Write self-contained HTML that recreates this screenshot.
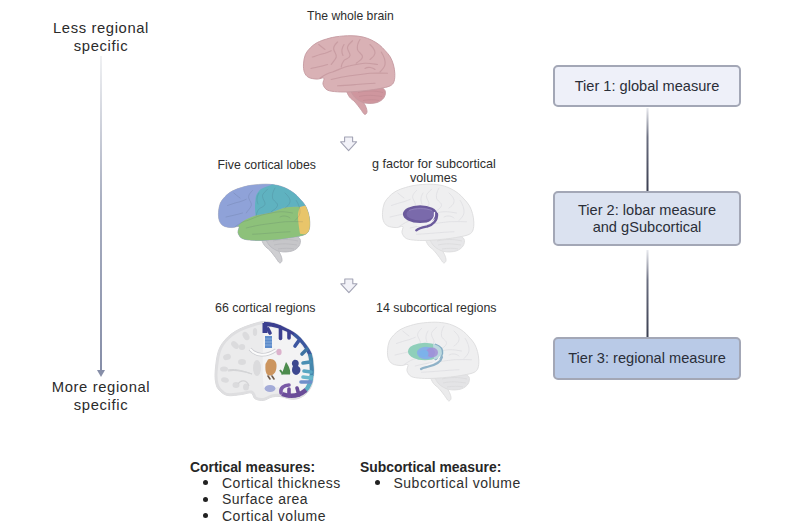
<!DOCTYPE html>
<html><head><meta charset="utf-8">
<style>
html,body{margin:0;padding:0;background:#fff;}
body{width:800px;height:530px;position:relative;overflow:hidden;font-family:"Liberation Sans",sans-serif;color:#333;}
.t{position:absolute;white-space:nowrap;}
.side{font-size:14.8px;line-height:18.3px;letter-spacing:0.62px;text-align:center;width:140px;left:31px;color:#2b2b2b;}
.lab{font-size:12.4px;line-height:14px;color:#2e2e2e;}
.box{position:absolute;left:553px;width:188px;box-sizing:border-box;border:2px solid #a3a7b6;border-radius:5px;font-size:14.6px;line-height:17px;text-align:center;color:#2a2e38;display:flex;align-items:center;justify-content:center;}
.hd{font-weight:bold;font-size:13.9px;line-height:16px;color:#262626;}
.li{font-size:14px;line-height:16.4px;letter-spacing:0.5px;color:#2e2e2e;}
.dot{position:absolute;width:5px;height:5px;border-radius:50%;background:#222;}
</style></head><body>
<svg width="800" height="530" style="position:absolute;left:0;top:0">
<defs>
<linearGradient id="ga" x1="0" y1="0" x2="0" y2="1"><stop offset="0" stop-color="#f0f1f3"/><stop offset="0.45" stop-color="#aab0c2"/><stop offset="1" stop-color="#868ea8"/></linearGradient>
<linearGradient id="gl" x1="0" y1="0" x2="0" y2="1"><stop offset="0" stop-color="#e8e9ee"/><stop offset="0.35" stop-color="#6a6e80"/><stop offset="1" stop-color="#3a3e50"/></linearGradient>
</defs>
<!-- left arrow -->
<rect x="100" y="56" width="2" height="315" fill="url(#ga)"/>
<path d="M97,370 L105,370 L101,377 Z" fill="#868ea8"/>
<!-- tier lines -->
<rect x="646.5" y="108" width="2" height="83" fill="url(#gl)"/>
<rect x="646.5" y="250" width="2" height="87" fill="url(#gl)"/>
<!-- hollow arrows -->
<path d="M344.6,137 L352.6,137 L352.6,141.8 L356.6,141.8 L348.6,150.6 L340.6,141.8 L344.6,141.8 Z" fill="#f2f2f8" stroke="#a2a3b4" stroke-width="1.1" stroke-linejoin="round"/>
<path d="M344.8,279 L352.8,279 L352.8,283.8 L357,283.8 L348.9,292.6 L340.8,283.8 L344.8,283.8 Z" fill="#f2f2f8" stroke="#a2a3b4" stroke-width="1.1" stroke-linejoin="round"/>
<g transform="translate(303,35.5)"><path d="M44.00,55.00 C45.08,54.50 50.58,57.00 53.00,58.50 C55.42,60.00 56.92,62.00 58.50,64.00 C60.08,66.00 61.58,68.42 62.50,70.50 C63.42,72.58 64.17,75.12 64.00,76.50 C63.83,77.88 62.58,79.30 61.50,78.80 C60.42,78.30 59.08,75.55 57.50,73.50 C55.92,71.45 53.83,68.50 52.00,66.50 C50.17,64.50 47.83,63.42 46.50,61.50 C45.17,59.58 42.92,55.50 44.00,55.00 Z" fill="#d4a2a8" stroke="#c59aa0" stroke-width="0.9"/><path d="M48.00,53.00 C49.33,51.17 55.50,51.33 60.00,51.00 C64.50,50.67 71.33,50.33 75.00,51.00 C78.67,51.67 81.00,53.17 82.00,55.00 C83.00,56.83 82.33,60.00 81.00,62.00 C79.67,64.00 77.17,66.08 74.00,67.00 C70.83,67.92 65.67,68.33 62.00,67.50 C58.33,66.67 54.33,64.42 52.00,62.00 C49.67,59.58 46.67,54.83 48.00,53.00 Z" fill="#cf969e" stroke="#c59aa0" stroke-width="0.9"/><path d="M55,57 C63,55 72,55 80,57" fill="none" stroke="#c08a92" stroke-width="0.8" opacity="0.8"/><path d="M56,61 C64,59 72,60 79,61" fill="none" stroke="#c08a92" stroke-width="0.8" opacity="0.8"/><path d="M60,65 C66,64 72,64 76,65" fill="none" stroke="#c08a92" stroke-width="0.8" opacity="0.8"/><path d="M0.50,28.40 C0.67,25.43 1.28,21.65 2.40,19.00 C3.52,16.35 5.43,14.37 7.20,12.50 C8.97,10.63 10.70,9.17 13.00,7.80 C15.30,6.43 17.67,5.38 21.00,4.30 C24.33,3.22 28.50,1.98 33.00,1.30 C37.50,0.62 43.50,0.17 48.00,0.20 C52.50,0.23 56.50,0.73 60.00,1.50 C63.50,2.27 66.25,3.47 69.00,4.80 C71.75,6.13 74.33,7.80 76.50,9.50 C78.67,11.20 80.20,13.00 82.00,15.00 C83.80,17.00 85.88,19.08 87.30,21.50 C88.72,23.92 89.75,26.75 90.50,29.50 C91.25,32.25 91.72,35.25 91.80,38.00 C91.88,40.75 91.78,43.93 91.00,46.00 C90.22,48.07 89.45,49.23 87.10,50.40 C84.75,51.57 80.87,52.23 76.90,53.00 C72.93,53.77 68.12,54.45 63.30,55.00 C58.48,55.55 52.80,56.08 48.00,56.30 C43.20,56.52 38.45,56.60 34.50,56.30 C30.55,56.00 26.72,55.77 24.30,54.50 C21.88,53.23 20.57,50.70 20.00,48.70 C19.43,46.70 21.88,43.35 20.90,42.50 C19.92,41.65 16.65,43.70 14.10,43.60 C11.55,43.50 7.72,43.03 5.60,41.90 C3.48,40.77 2.25,39.05 1.40,36.80 C0.55,34.55 0.33,31.37 0.50,28.40 Z" fill="#d9b1b5" stroke="#c59aa0" stroke-width="0.9"/><path d="M17,42.75 C22,39 26,37 29.5,36.5 C36,34 42,31 47,30.25 C53,29 58,28 62,27.75 C67,27.5 71,28.5 74.5,29" fill="none" stroke="#c4979d" stroke-width="1.15" stroke-linecap="round" opacity="0.8"/><path d="M49.5,5.25 C47,8 44,10 44.5,12.75 C45,16 47.5,18 47,20.25 C46.5,23 42,23.5 40.75,25.25 C39.5,27 38.5,29 38.25,31.5" fill="none" stroke="#c4979d" stroke-width="1.15" stroke-linecap="round" opacity="0.8"/><path d="M34.5,6.5 C32,9 30,11.5 30.75,14 C31.5,17 34,19 33.25,21.5 C32.5,24.5 29.5,26.5 28.25,29" fill="none" stroke="#c4979d" stroke-width="1.15" stroke-linecap="round" opacity="0.8"/><path d="M9.5,21.5 C14,20 18,18.5 22,17.75 C24.5,17 26.5,16 28.25,15.25" fill="none" stroke="#c4979d" stroke-width="1.15" stroke-linecap="round" opacity="0.8"/><path d="M57,4 C55,7 54,11 54.5,14 C55,17 60,18.5 59.5,21.5 C59,24.5 55,26 53.25,27.75" fill="none" stroke="#c4979d" stroke-width="1.15" stroke-linecap="round" opacity="0.8"/><path d="M67,9 C70,12 72.5,14.5 72,17.75 C71.5,21 69,22.5 67,24" fill="none" stroke="#c4979d" stroke-width="1.15" stroke-linecap="round" opacity="0.8"/><path d="M78.25,16.5 C80.5,20 82.5,25 82,29 C81.5,32 79,34.5 77,36.5" fill="none" stroke="#c4979d" stroke-width="1.15" stroke-linecap="round" opacity="0.8"/><path d="M28.25,44 C34,42.5 41,41 47,40.25 C53,39.5 60,38.5 67,37.75 C73,37.5 79,37.5 84.5,37.75" fill="none" stroke="#c4979d" stroke-width="1.15" stroke-linecap="round" opacity="0.8"/><path d="M34.5,50.25 C41,50 47,49.5 53.25,49 C59,48.5 66,48 72,47.75" fill="none" stroke="#c4979d" stroke-width="1.15" stroke-linecap="round" opacity="0.8"/><path d="M8,33 C12,32 18,31 24.5,29" fill="none" stroke="#c4979d" stroke-width="1.15" stroke-linecap="round" opacity="0.8"/><path d="M15.75,9 C18,11 20,12.5 22,14" fill="none" stroke="#c4979d" stroke-width="1.15" stroke-linecap="round" opacity="0.8"/><path d="M62,33 C65,31 70,32 72,34" fill="none" stroke="#c4979d" stroke-width="1.15" stroke-linecap="round" opacity="0.8"/><path d="M40,20 C38,16 39,12 41,9" fill="none" stroke="#c4979d" stroke-width="1.15" stroke-linecap="round" opacity="0.8"/></g><g transform="translate(218,184)"><path d="M44.00,55.00 C45.08,54.50 50.58,57.00 53.00,58.50 C55.42,60.00 56.92,62.00 58.50,64.00 C60.08,66.00 61.58,68.42 62.50,70.50 C63.42,72.58 64.17,75.12 64.00,76.50 C63.83,77.88 62.58,79.30 61.50,78.80 C60.42,78.30 59.08,75.55 57.50,73.50 C55.92,71.45 53.83,68.50 52.00,66.50 C50.17,64.50 47.83,63.42 46.50,61.50 C45.17,59.58 42.92,55.50 44.00,55.00 Z" fill="#cfcfd2" stroke="#b9b9be" stroke-width="0.9"/><path d="M48.00,53.00 C49.33,51.17 55.50,51.33 60.00,51.00 C64.50,50.67 71.33,50.33 75.00,51.00 C78.67,51.67 81.00,53.17 82.00,55.00 C83.00,56.83 82.33,60.00 81.00,62.00 C79.67,64.00 77.17,66.08 74.00,67.00 C70.83,67.92 65.67,68.33 62.00,67.50 C58.33,66.67 54.33,64.42 52.00,62.00 C49.67,59.58 46.67,54.83 48.00,53.00 Z" fill="#c6c6c9" stroke="#b9b9be" stroke-width="0.9"/><path d="M55,57 C63,55 72,55 80,57" fill="none" stroke="#b5b5b9" stroke-width="0.8" opacity="0.8"/><path d="M56,61 C64,59 72,60 79,61" fill="none" stroke="#b5b5b9" stroke-width="0.8" opacity="0.8"/><path d="M60,65 C66,64 72,64 76,65" fill="none" stroke="#b5b5b9" stroke-width="0.8" opacity="0.8"/><path d="M0.50,28.40 C0.67,25.43 1.28,21.65 2.40,19.00 C3.52,16.35 5.43,14.37 7.20,12.50 C8.97,10.63 10.70,9.17 13.00,7.80 C15.30,6.43 17.67,5.38 21.00,4.30 C24.33,3.22 28.50,1.98 33.00,1.30 C37.50,0.62 43.50,0.17 48.00,0.20 C52.50,0.23 56.50,0.73 60.00,1.50 C63.50,2.27 66.25,3.47 69.00,4.80 C71.75,6.13 74.33,7.80 76.50,9.50 C78.67,11.20 80.20,13.00 82.00,15.00 C83.80,17.00 85.88,19.08 87.30,21.50 C88.72,23.92 89.75,26.75 90.50,29.50 C91.25,32.25 91.72,35.25 91.80,38.00 C91.88,40.75 91.78,43.93 91.00,46.00 C90.22,48.07 89.45,49.23 87.10,50.40 C84.75,51.57 80.87,52.23 76.90,53.00 C72.93,53.77 68.12,54.45 63.30,55.00 C58.48,55.55 52.80,56.08 48.00,56.30 C43.20,56.52 38.45,56.60 34.50,56.30 C30.55,56.00 26.72,55.77 24.30,54.50 C21.88,53.23 20.57,50.70 20.00,48.70 C19.43,46.70 21.88,43.35 20.90,42.50 C19.92,41.65 16.65,43.70 14.10,43.60 C11.55,43.50 7.72,43.03 5.60,41.90 C3.48,40.77 2.25,39.05 1.40,36.80 C0.55,34.55 0.33,31.37 0.50,28.40 Z" fill="#8fa3d8" stroke="#b9b9be" stroke-width="0.9"/>
<clipPath id="cl2"><path d="M0.50,28.40 C0.67,25.43 1.28,21.65 2.40,19.00 C3.52,16.35 5.43,14.37 7.20,12.50 C8.97,10.63 10.70,9.17 13.00,7.80 C15.30,6.43 17.67,5.38 21.00,4.30 C24.33,3.22 28.50,1.98 33.00,1.30 C37.50,0.62 43.50,0.17 48.00,0.20 C52.50,0.23 56.50,0.73 60.00,1.50 C63.50,2.27 66.25,3.47 69.00,4.80 C71.75,6.13 74.33,7.80 76.50,9.50 C78.67,11.20 80.20,13.00 82.00,15.00 C83.80,17.00 85.88,19.08 87.30,21.50 C88.72,23.92 89.75,26.75 90.50,29.50 C91.25,32.25 91.72,35.25 91.80,38.00 C91.88,40.75 91.78,43.93 91.00,46.00 C90.22,48.07 89.45,49.23 87.10,50.40 C84.75,51.57 80.87,52.23 76.90,53.00 C72.93,53.77 68.12,54.45 63.30,55.00 C58.48,55.55 52.80,56.08 48.00,56.30 C43.20,56.52 38.45,56.60 34.50,56.30 C30.55,56.00 26.72,55.77 24.30,54.50 C21.88,53.23 20.57,50.70 20.00,48.70 C19.43,46.70 21.88,43.35 20.90,42.50 C19.92,41.65 16.65,43.70 14.10,43.60 C11.55,43.50 7.72,43.03 5.60,41.90 C3.48,40.77 2.25,39.05 1.40,36.80 C0.55,34.55 0.33,31.37 0.50,28.40 Z"/></clipPath>
<g clip-path="url(#cl2)">
<rect x="-5" y="-5" width="110" height="90" fill="#8fa2d8"/>
<path d="M56,-5 L53.25,1 C47,3 42,5 40.75,7.25 C38.5,10 37.8,12 37.6,14.75 C37.2,18 37,21 37,23.5 C37.1,26 37.3,29 37.6,31.6 C43,30.5 48,29.5 53.25,28.5 C58,27 62,25 67,23.5 C72,22.8 77,22.7 82,22.9 L100,20 L100,-5 Z" fill="#5fb2c0"/>
<path d="M14,50 C16,46 18,43 20.75,41 C23,38.5 26,36.5 29.5,34.75 C32,33.5 35,32.5 37.6,31.6 C43,30.5 48,29.5 53.25,28.5 C58,27 62,25 67,23.5 C72,22.8 77,22.7 82,22.9 L100,23 L100,80 L0,80 Z" fill="#8dc17a"/>
<path d="M82,22.9 C80.5,26 79.8,30 80,33.5 C80.2,38 81,44 82,49.75 L100,52 L100,18 Z" fill="#e8c56a"/>
</g>
<path d="M17,42.75 C22,39 26,37 29.5,36.5 C36,34 42,31 47,30.25 C53,29 58,28 62,27.75 C67,27.5 71,28.5 74.5,29" fill="none" stroke="#3a4a5a" stroke-width="0.9" stroke-linecap="round" opacity="0.16"/><path d="M49.5,5.25 C47,8 44,10 44.5,12.75 C45,16 47.5,18 47,20.25 C46.5,23 42,23.5 40.75,25.25 C39.5,27 38.5,29 38.25,31.5" fill="none" stroke="#3a4a5a" stroke-width="0.9" stroke-linecap="round" opacity="0.16"/><path d="M34.5,6.5 C32,9 30,11.5 30.75,14 C31.5,17 34,19 33.25,21.5 C32.5,24.5 29.5,26.5 28.25,29" fill="none" stroke="#3a4a5a" stroke-width="0.9" stroke-linecap="round" opacity="0.16"/><path d="M9.5,21.5 C14,20 18,18.5 22,17.75 C24.5,17 26.5,16 28.25,15.25" fill="none" stroke="#3a4a5a" stroke-width="0.9" stroke-linecap="round" opacity="0.16"/><path d="M57,4 C55,7 54,11 54.5,14 C55,17 60,18.5 59.5,21.5 C59,24.5 55,26 53.25,27.75" fill="none" stroke="#3a4a5a" stroke-width="0.9" stroke-linecap="round" opacity="0.16"/><path d="M67,9 C70,12 72.5,14.5 72,17.75 C71.5,21 69,22.5 67,24" fill="none" stroke="#3a4a5a" stroke-width="0.9" stroke-linecap="round" opacity="0.16"/><path d="M78.25,16.5 C80.5,20 82.5,25 82,29 C81.5,32 79,34.5 77,36.5" fill="none" stroke="#3a4a5a" stroke-width="0.9" stroke-linecap="round" opacity="0.16"/><path d="M28.25,44 C34,42.5 41,41 47,40.25 C53,39.5 60,38.5 67,37.75 C73,37.5 79,37.5 84.5,37.75" fill="none" stroke="#3a4a5a" stroke-width="0.9" stroke-linecap="round" opacity="0.16"/><path d="M34.5,50.25 C41,50 47,49.5 53.25,49 C59,48.5 66,48 72,47.75" fill="none" stroke="#3a4a5a" stroke-width="0.9" stroke-linecap="round" opacity="0.16"/><path d="M8,33 C12,32 18,31 24.5,29" fill="none" stroke="#3a4a5a" stroke-width="0.9" stroke-linecap="round" opacity="0.16"/><path d="M15.75,9 C18,11 20,12.5 22,14" fill="none" stroke="#3a4a5a" stroke-width="0.9" stroke-linecap="round" opacity="0.16"/><path d="M62,33 C65,31 70,32 72,34" fill="none" stroke="#3a4a5a" stroke-width="0.9" stroke-linecap="round" opacity="0.16"/><path d="M40,20 C38,16 39,12 41,9" fill="none" stroke="#3a4a5a" stroke-width="0.9" stroke-linecap="round" opacity="0.16"/></g><g transform="translate(382,184)"><path d="M44.00,55.00 C45.08,54.50 50.58,57.00 53.00,58.50 C55.42,60.00 56.92,62.00 58.50,64.00 C60.08,66.00 61.58,68.42 62.50,70.50 C63.42,72.58 64.17,75.12 64.00,76.50 C63.83,77.88 62.58,79.30 61.50,78.80 C60.42,78.30 59.08,75.55 57.50,73.50 C55.92,71.45 53.83,68.50 52.00,66.50 C50.17,64.50 47.83,63.42 46.50,61.50 C45.17,59.58 42.92,55.50 44.00,55.00 Z" fill="#ebebec" stroke="#dcdcde" stroke-width="0.9"/><path d="M48.00,53.00 C49.33,51.17 55.50,51.33 60.00,51.00 C64.50,50.67 71.33,50.33 75.00,51.00 C78.67,51.67 81.00,53.17 82.00,55.00 C83.00,56.83 82.33,60.00 81.00,62.00 C79.67,64.00 77.17,66.08 74.00,67.00 C70.83,67.92 65.67,68.33 62.00,67.50 C58.33,66.67 54.33,64.42 52.00,62.00 C49.67,59.58 46.67,54.83 48.00,53.00 Z" fill="#e7e7e9" stroke="#dcdcde" stroke-width="0.9"/><path d="M55,57 C63,55 72,55 80,57" fill="none" stroke="#d8d8da" stroke-width="0.8" opacity="0.8"/><path d="M56,61 C64,59 72,60 79,61" fill="none" stroke="#d8d8da" stroke-width="0.8" opacity="0.8"/><path d="M60,65 C66,64 72,64 76,65" fill="none" stroke="#d8d8da" stroke-width="0.8" opacity="0.8"/><path d="M0.50,28.40 C0.67,25.43 1.28,21.65 2.40,19.00 C3.52,16.35 5.43,14.37 7.20,12.50 C8.97,10.63 10.70,9.17 13.00,7.80 C15.30,6.43 17.67,5.38 21.00,4.30 C24.33,3.22 28.50,1.98 33.00,1.30 C37.50,0.62 43.50,0.17 48.00,0.20 C52.50,0.23 56.50,0.73 60.00,1.50 C63.50,2.27 66.25,3.47 69.00,4.80 C71.75,6.13 74.33,7.80 76.50,9.50 C78.67,11.20 80.20,13.00 82.00,15.00 C83.80,17.00 85.88,19.08 87.30,21.50 C88.72,23.92 89.75,26.75 90.50,29.50 C91.25,32.25 91.72,35.25 91.80,38.00 C91.88,40.75 91.78,43.93 91.00,46.00 C90.22,48.07 89.45,49.23 87.10,50.40 C84.75,51.57 80.87,52.23 76.90,53.00 C72.93,53.77 68.12,54.45 63.30,55.00 C58.48,55.55 52.80,56.08 48.00,56.30 C43.20,56.52 38.45,56.60 34.50,56.30 C30.55,56.00 26.72,55.77 24.30,54.50 C21.88,53.23 20.57,50.70 20.00,48.70 C19.43,46.70 21.88,43.35 20.90,42.50 C19.92,41.65 16.65,43.70 14.10,43.60 C11.55,43.50 7.72,43.03 5.60,41.90 C3.48,40.77 2.25,39.05 1.40,36.80 C0.55,34.55 0.33,31.37 0.50,28.40 Z" fill="#efeff0" stroke="#dcdcde" stroke-width="0.9"/><path d="M17,42.75 C22,39 26,37 29.5,36.5 C36,34 42,31 47,30.25 C53,29 58,28 62,27.75 C67,27.5 71,28.5 74.5,29" fill="none" stroke="#dfdfe2" stroke-width="1.0" stroke-linecap="round" opacity="0.8"/><path d="M49.5,5.25 C47,8 44,10 44.5,12.75 C45,16 47.5,18 47,20.25 C46.5,23 42,23.5 40.75,25.25 C39.5,27 38.5,29 38.25,31.5" fill="none" stroke="#dfdfe2" stroke-width="1.0" stroke-linecap="round" opacity="0.8"/><path d="M34.5,6.5 C32,9 30,11.5 30.75,14 C31.5,17 34,19 33.25,21.5 C32.5,24.5 29.5,26.5 28.25,29" fill="none" stroke="#dfdfe2" stroke-width="1.0" stroke-linecap="round" opacity="0.8"/><path d="M9.5,21.5 C14,20 18,18.5 22,17.75 C24.5,17 26.5,16 28.25,15.25" fill="none" stroke="#dfdfe2" stroke-width="1.0" stroke-linecap="round" opacity="0.8"/><path d="M57,4 C55,7 54,11 54.5,14 C55,17 60,18.5 59.5,21.5 C59,24.5 55,26 53.25,27.75" fill="none" stroke="#dfdfe2" stroke-width="1.0" stroke-linecap="round" opacity="0.8"/><path d="M67,9 C70,12 72.5,14.5 72,17.75 C71.5,21 69,22.5 67,24" fill="none" stroke="#dfdfe2" stroke-width="1.0" stroke-linecap="round" opacity="0.8"/><path d="M78.25,16.5 C80.5,20 82.5,25 82,29 C81.5,32 79,34.5 77,36.5" fill="none" stroke="#dfdfe2" stroke-width="1.0" stroke-linecap="round" opacity="0.8"/><path d="M28.25,44 C34,42.5 41,41 47,40.25 C53,39.5 60,38.5 67,37.75 C73,37.5 79,37.5 84.5,37.75" fill="none" stroke="#dfdfe2" stroke-width="1.0" stroke-linecap="round" opacity="0.8"/><path d="M34.5,50.25 C41,50 47,49.5 53.25,49 C59,48.5 66,48 72,47.75" fill="none" stroke="#dfdfe2" stroke-width="1.0" stroke-linecap="round" opacity="0.8"/><path d="M8,33 C12,32 18,31 24.5,29" fill="none" stroke="#dfdfe2" stroke-width="1.0" stroke-linecap="round" opacity="0.8"/><path d="M15.75,9 C18,11 20,12.5 22,14" fill="none" stroke="#dfdfe2" stroke-width="1.0" stroke-linecap="round" opacity="0.8"/><path d="M62,33 C65,31 70,32 72,34" fill="none" stroke="#dfdfe2" stroke-width="1.0" stroke-linecap="round" opacity="0.8"/><path d="M40,20 C38,16 39,12 41,9" fill="none" stroke="#dfdfe2" stroke-width="1.0" stroke-linecap="round" opacity="0.8"/>
<ellipse cx="38.1" cy="30.1" rx="17.2" ry="8.9" fill="#6b5a9c"/>
<ellipse cx="38.5" cy="30" rx="14" ry="6.5" fill="#7a6aab"/>
<path d="M27,26.5 C33,24 44,24 50,26.5" fill="none" stroke="#9888c0" stroke-width="0.9" opacity="0.8"/>
<path d="M52.5,28 C53.5,33 50,38 44,40 C41,41 38,41.5 35,41.5" fill="none" stroke="#f4f2f8" stroke-width="1.3"/>
<path d="M55,30 C55.5,36 51,41 45,42.5 C40,43.5 37,44 34.3,46.3" fill="none" stroke="#6b5a9c" stroke-width="2.4" stroke-linecap="round"/>
</g><g transform="translate(387,322)"><path d="M44.00,55.00 C45.08,54.50 50.58,57.00 53.00,58.50 C55.42,60.00 56.92,62.00 58.50,64.00 C60.08,66.00 61.58,68.42 62.50,70.50 C63.42,72.58 64.17,75.12 64.00,76.50 C63.83,77.88 62.58,79.30 61.50,78.80 C60.42,78.30 59.08,75.55 57.50,73.50 C55.92,71.45 53.83,68.50 52.00,66.50 C50.17,64.50 47.83,63.42 46.50,61.50 C45.17,59.58 42.92,55.50 44.00,55.00 Z" fill="#ebebec" stroke="#dcdcde" stroke-width="0.9"/><path d="M48.00,53.00 C49.33,51.17 55.50,51.33 60.00,51.00 C64.50,50.67 71.33,50.33 75.00,51.00 C78.67,51.67 81.00,53.17 82.00,55.00 C83.00,56.83 82.33,60.00 81.00,62.00 C79.67,64.00 77.17,66.08 74.00,67.00 C70.83,67.92 65.67,68.33 62.00,67.50 C58.33,66.67 54.33,64.42 52.00,62.00 C49.67,59.58 46.67,54.83 48.00,53.00 Z" fill="#e4e4e6" stroke="#dcdcde" stroke-width="0.9"/><path d="M55,57 C63,55 72,55 80,57" fill="none" stroke="#d8d8da" stroke-width="0.8" opacity="0.8"/><path d="M56,61 C64,59 72,60 79,61" fill="none" stroke="#d8d8da" stroke-width="0.8" opacity="0.8"/><path d="M60,65 C66,64 72,64 76,65" fill="none" stroke="#d8d8da" stroke-width="0.8" opacity="0.8"/><path d="M0.50,28.40 C0.67,25.43 1.28,21.65 2.40,19.00 C3.52,16.35 5.43,14.37 7.20,12.50 C8.97,10.63 10.70,9.17 13.00,7.80 C15.30,6.43 17.67,5.38 21.00,4.30 C24.33,3.22 28.50,1.98 33.00,1.30 C37.50,0.62 43.50,0.17 48.00,0.20 C52.50,0.23 56.50,0.73 60.00,1.50 C63.50,2.27 66.25,3.47 69.00,4.80 C71.75,6.13 74.33,7.80 76.50,9.50 C78.67,11.20 80.20,13.00 82.00,15.00 C83.80,17.00 85.88,19.08 87.30,21.50 C88.72,23.92 89.75,26.75 90.50,29.50 C91.25,32.25 91.72,35.25 91.80,38.00 C91.88,40.75 91.78,43.93 91.00,46.00 C90.22,48.07 89.45,49.23 87.10,50.40 C84.75,51.57 80.87,52.23 76.90,53.00 C72.93,53.77 68.12,54.45 63.30,55.00 C58.48,55.55 52.80,56.08 48.00,56.30 C43.20,56.52 38.45,56.60 34.50,56.30 C30.55,56.00 26.72,55.77 24.30,54.50 C21.88,53.23 20.57,50.70 20.00,48.70 C19.43,46.70 21.88,43.35 20.90,42.50 C19.92,41.65 16.65,43.70 14.10,43.60 C11.55,43.50 7.72,43.03 5.60,41.90 C3.48,40.77 2.25,39.05 1.40,36.80 C0.55,34.55 0.33,31.37 0.50,28.40 Z" fill="#efeff0" stroke="#dcdcde" stroke-width="0.9"/><path d="M17,42.75 C22,39 26,37 29.5,36.5 C36,34 42,31 47,30.25 C53,29 58,28 62,27.75 C67,27.5 71,28.5 74.5,29" fill="none" stroke="#dfdfe2" stroke-width="1.0" stroke-linecap="round" opacity="0.8"/><path d="M49.5,5.25 C47,8 44,10 44.5,12.75 C45,16 47.5,18 47,20.25 C46.5,23 42,23.5 40.75,25.25 C39.5,27 38.5,29 38.25,31.5" fill="none" stroke="#dfdfe2" stroke-width="1.0" stroke-linecap="round" opacity="0.8"/><path d="M34.5,6.5 C32,9 30,11.5 30.75,14 C31.5,17 34,19 33.25,21.5 C32.5,24.5 29.5,26.5 28.25,29" fill="none" stroke="#dfdfe2" stroke-width="1.0" stroke-linecap="round" opacity="0.8"/><path d="M9.5,21.5 C14,20 18,18.5 22,17.75 C24.5,17 26.5,16 28.25,15.25" fill="none" stroke="#dfdfe2" stroke-width="1.0" stroke-linecap="round" opacity="0.8"/><path d="M57,4 C55,7 54,11 54.5,14 C55,17 60,18.5 59.5,21.5 C59,24.5 55,26 53.25,27.75" fill="none" stroke="#dfdfe2" stroke-width="1.0" stroke-linecap="round" opacity="0.8"/><path d="M67,9 C70,12 72.5,14.5 72,17.75 C71.5,21 69,22.5 67,24" fill="none" stroke="#dfdfe2" stroke-width="1.0" stroke-linecap="round" opacity="0.8"/><path d="M78.25,16.5 C80.5,20 82.5,25 82,29 C81.5,32 79,34.5 77,36.5" fill="none" stroke="#dfdfe2" stroke-width="1.0" stroke-linecap="round" opacity="0.8"/><path d="M28.25,44 C34,42.5 41,41 47,40.25 C53,39.5 60,38.5 67,37.75 C73,37.5 79,37.5 84.5,37.75" fill="none" stroke="#dfdfe2" stroke-width="1.0" stroke-linecap="round" opacity="0.8"/><path d="M34.5,50.25 C41,50 47,49.5 53.25,49 C59,48.5 66,48 72,47.75" fill="none" stroke="#dfdfe2" stroke-width="1.0" stroke-linecap="round" opacity="0.8"/><path d="M8,33 C12,32 18,31 24.5,29" fill="none" stroke="#dfdfe2" stroke-width="1.0" stroke-linecap="round" opacity="0.8"/><path d="M15.75,9 C18,11 20,12.5 22,14" fill="none" stroke="#dfdfe2" stroke-width="1.0" stroke-linecap="round" opacity="0.8"/><path d="M62,33 C65,31 70,32 72,34" fill="none" stroke="#dfdfe2" stroke-width="1.0" stroke-linecap="round" opacity="0.8"/><path d="M40,20 C38,16 39,12 41,9" fill="none" stroke="#dfdfe2" stroke-width="1.0" stroke-linecap="round" opacity="0.8"/>
<ellipse cx="38" cy="29.5" rx="17" ry="8.7" fill="#8fcfba"/>
<path d="M46,21.5 C54,23 57,27 56.5,31 C56,35 52,37.5 47,38 Z" fill="#bcd9df"/>
<path d="M48,22 C54,24 56,28 55.5,31.5 C55,35 52,37 48,38" fill="none" stroke="#86acc4" stroke-width="1.2"/>
<ellipse cx="39" cy="31" rx="9" ry="6.2" fill="#86b0e6"/>
<ellipse cx="45" cy="30.5" rx="6" ry="5" fill="#a28fd6" opacity="0.85"/>
<ellipse cx="37" cy="31.5" rx="4.5" ry="3.6" fill="#7cb2ea"/>
<path d="M53,34.5 C51,39 46,41.5 40,43" fill="none" stroke="#f6f6f8" stroke-width="1.2"/>
<path d="M55,35 C54,40 47,43.5 40,45 C37,45.7 35.5,46 34,47" fill="none" stroke="#8fb2c8" stroke-width="2.2" stroke-linecap="round"/>
</g>
<clipPath id="clc"><path d="M263.50,321.50 C259.50,321.72 254.92,323.38 251.00,324.60 C247.08,325.82 243.33,327.20 240.00,328.80 C236.67,330.40 233.58,332.25 231.00,334.20 C228.42,336.15 226.37,338.28 224.50,340.50 C222.63,342.72 221.02,344.97 219.80,347.50 C218.58,350.03 217.87,352.78 217.20,355.70 C216.53,358.62 216.17,361.70 215.80,365.00 C215.43,368.30 214.97,372.33 215.00,375.50 C215.03,378.67 215.33,381.58 216.00,384.00 C216.67,386.42 217.10,388.08 219.00,390.00 C220.90,391.92 223.62,394.75 227.40,395.50 C231.18,396.25 237.73,394.92 241.70,394.50 C245.67,394.08 248.98,392.28 251.20,393.00 C253.42,393.72 252.95,397.57 255.00,398.80 C257.05,400.03 260.67,400.70 263.50,400.40 C266.33,400.10 269.25,397.65 272.00,397.00 C274.75,396.35 277.00,396.17 280.00,396.50 C283.00,396.83 287.00,398.65 290.00,399.00 C293.00,399.35 295.33,399.43 298.00,398.60 C300.67,397.77 303.75,396.10 306.00,394.00 C308.25,391.90 310.23,389.00 311.50,386.00 C312.77,383.00 313.22,379.33 313.60,376.00 C313.98,372.67 314.15,369.83 313.80,366.00 C313.45,362.17 313.30,357.25 311.50,353.00 C309.70,348.75 305.75,343.83 303.00,340.50 C300.25,337.17 297.92,335.13 295.00,333.00 C292.08,330.87 288.83,329.32 285.50,327.70 C282.17,326.08 278.67,324.33 275.00,323.30 C271.33,322.27 267.50,321.28 263.50,321.50 Z"/></clipPath>
<path d="M263.50,321.50 C259.50,321.72 254.92,323.38 251.00,324.60 C247.08,325.82 243.33,327.20 240.00,328.80 C236.67,330.40 233.58,332.25 231.00,334.20 C228.42,336.15 226.37,338.28 224.50,340.50 C222.63,342.72 221.02,344.97 219.80,347.50 C218.58,350.03 217.87,352.78 217.20,355.70 C216.53,358.62 216.17,361.70 215.80,365.00 C215.43,368.30 214.97,372.33 215.00,375.50 C215.03,378.67 215.33,381.58 216.00,384.00 C216.67,386.42 217.10,388.08 219.00,390.00 C220.90,391.92 223.62,394.75 227.40,395.50 C231.18,396.25 237.73,394.92 241.70,394.50 C245.67,394.08 248.98,392.28 251.20,393.00 C253.42,393.72 252.95,397.57 255.00,398.80 C257.05,400.03 260.67,400.70 263.50,400.40 C266.33,400.10 269.25,397.65 272.00,397.00 C274.75,396.35 277.00,396.17 280.00,396.50 C283.00,396.83 287.00,398.65 290.00,399.00 C293.00,399.35 295.33,399.43 298.00,398.60 C300.67,397.77 303.75,396.10 306.00,394.00 C308.25,391.90 310.23,389.00 311.50,386.00 C312.77,383.00 313.22,379.33 313.60,376.00 C313.98,372.67 314.15,369.83 313.80,366.00 C313.45,362.17 313.30,357.25 311.50,353.00 C309.70,348.75 305.75,343.83 303.00,340.50 C300.25,337.17 297.92,335.13 295.00,333.00 C292.08,330.87 288.83,329.32 285.50,327.70 C282.17,326.08 278.67,324.33 275.00,323.30 C271.33,322.27 267.50,321.28 263.50,321.50 Z" fill="#ebebec" stroke="#d6d6d8" stroke-width="0.9"/>
<g clip-path="url(#clc)">
  <path d="M263.50,321.50 C259.50,321.72 254.92,323.38 251.00,324.60 C247.08,325.82 243.33,327.20 240.00,328.80 C236.67,330.40 233.58,332.25 231.00,334.20 C228.42,336.15 226.37,338.28 224.50,340.50 C222.63,342.72 221.02,344.97 219.80,347.50 C218.58,350.03 217.87,352.78 217.20,355.70 C216.53,358.62 216.17,361.70 215.80,365.00 C215.43,368.30 214.97,372.33 215.00,375.50 C215.03,378.67 215.33,381.58 216.00,384.00 C216.67,386.42 217.10,388.08 219.00,390.00 C220.90,391.92 223.62,394.75 227.40,395.50 C231.18,396.25 237.73,394.92 241.70,394.50 C245.67,394.08 248.98,392.28 251.20,393.00 C253.42,393.72 252.95,397.57 255.00,398.80 C257.05,400.03 260.67,400.70 263.50,400.40 C266.33,400.10 269.25,397.65 272.00,397.00 C274.75,396.35 277.00,396.17 280.00,396.50 C283.00,396.83 287.00,398.65 290.00,399.00 C293.00,399.35 295.33,399.43 298.00,398.60 C300.67,397.77 303.75,396.10 306.00,394.00 C308.25,391.90 310.23,389.00 311.50,386.00 C312.77,383.00 313.22,379.33 313.60,376.00 C313.98,372.67 314.15,369.83 313.80,366.00 C313.45,362.17 313.30,357.25 311.50,353.00 C309.70,348.75 305.75,343.83 303.00,340.50 C300.25,337.17 297.92,335.13 295.00,333.00 C292.08,330.87 288.83,329.32 285.50,327.70 C282.17,326.08 278.67,324.33 275.00,323.30 C271.33,322.27 267.50,321.28 263.50,321.50 Z" fill="none" stroke="#dedee0" stroke-width="5"/>
  <g fill="#dbdbdd">
    <ellipse cx="246" cy="336" rx="3" ry="4.5" transform="rotate(-30 246 336)"/>
    <ellipse cx="235" cy="345" rx="3" ry="4.5" transform="rotate(-45 235 345)"/>
    <ellipse cx="242" cy="347" rx="3.2" ry="3" />
    <ellipse cx="227" cy="357" rx="4" ry="3" transform="rotate(-20 227 357)"/>
    <ellipse cx="224" cy="369" rx="4" ry="2.6"/>
    <ellipse cx="225" cy="380" rx="4" ry="2.6" transform="rotate(15 225 380)"/>
    <ellipse cx="255" cy="332" rx="2.2" ry="4"/>
    <ellipse cx="242" cy="362" rx="4" ry="3"/>
    <ellipse cx="236" cy="385" rx="3.5" ry="3"/>
    <ellipse cx="246" cy="387" rx="3" ry="3.5"/>
  </g>
  <g fill="none" stroke="#d4d4d6" stroke-width="1.2">
    <path d="M238,384 C241,379 247,380 249,386"/><path d="M228,371 C236,369 246,372 252,374"/>
  </g>
  <path d="M228,370 C236,368 246,372 252,374" fill="none" stroke="#d3d4d6" stroke-width="1"/>
  <path d="M269.00,327.00 C271.67,327.50 276.17,328.50 280.00,330.00 C283.83,331.50 288.50,333.50 292.00,336.00 C295.50,338.50 298.50,341.67 301.00,345.00 C303.50,348.33 305.67,352.17 307.00,356.00 C308.33,359.83 308.75,364.00 309.00,368.00 C309.25,372.00 309.33,376.67 308.50,380.00 C307.67,383.33 306.25,385.92 304.00,388.00 C301.75,390.08 298.17,392.00 295.00,392.50 C291.83,393.00 287.83,391.92 285.00,391.00 C282.17,390.08 281.50,387.50 278.00,387.00 C274.50,386.50 266.33,398.00 264.00,388.00 C261.67,378.00 263.17,337.17 264.00,327.00 C264.83,316.83 266.33,326.50 269.00,327.00 Z" fill="#f3f3f4"/>
  <!-- cortex band: thick outer strokes -->
  <path d="M265,323 L265,333" fill="none" stroke="#3b3f90" stroke-width="5"/>
  <path d="M264,323.8 C275,324 286,328 295,334" fill="none" stroke="#3b3f90" stroke-width="4.2"/>
  <path d="M294,333.5 C301,339 307,346 310.5,355" fill="none" stroke="#3b579e" stroke-width="4.2"/>
  <path d="M310,354 C311.8,361 312,368 311.8,376" fill="none" stroke="#4687ad" stroke-width="4.2"/>
  <path d="M311.8,375 C311,382 309,387 305,391" fill="none" stroke="#5eaec4" stroke-width="4.2"/>
  <path d="M306,390 C299,396 290,397 282,394" fill="none" stroke="#6a4d98" stroke-width="4.5"/>
  <g fill="none" stroke-width="3.6" stroke-linecap="round">
    <path d="M280.5,327 L280.5,338.5" stroke="#3b3f90"/><path d="M289,331 L289,338" stroke="#3b3f90"/>
    <path d="M268,329 L270,333" stroke="#3b3f90"/>
    <path d="M300,339 L295,346" stroke="#3d56a0"/><path d="M307,349 L302,354" stroke="#3e72a2"/>
    <path d="M310,362 L303,363" stroke="#4a8fb4"/><path d="M311,372 L304,371" stroke="#58a6c2"/>
    <path d="M303,377 L311,378" stroke="#6ab8cc"/>
    <path d="M301,382 L311,382" stroke="#6f8fca"/>
    <path d="M299,395 L297,388" stroke="#6a4d98"/><path d="M289,396 L289,389" stroke="#70509c"/>
    <path d="M281,393 C280,388 284,385 289,385" stroke="#7a5aa6"/>
  </g>
  <rect x="265" y="336" width="7" height="12" fill="#5d8ccb"/>
  <path d="M265,339 L272,339 M265,342 L272,342 M265,345 L272,345" stroke="#8db0de" stroke-width="0.9"/>
  <path d="M250,349 C256,356 266,357 276,350" fill="none" stroke="#c9cacf" stroke-width="3.5"/>
  <path d="M250,349 C256,356 266,357 276,350" fill="none" stroke="#fbfbfb" stroke-width="2"/>
  <ellipse cx="279" cy="352" rx="2.6" ry="3.2" fill="#dcb2cc"/>
  <ellipse cx="257" cy="368" rx="4" ry="8" fill="#dbdbdd"/>
  <path d="M268,359.5 C273,358 277,361 276.5,367 C276,373 273,376 269,375.5 C265.5,375 265,369 265.5,364 Z" fill="#cc955f"/>
  <path d="M268,376 L270,379 M272,376 L274,379" stroke="#6e5a4a" stroke-width="1.6" stroke-linecap="round"/>
  <path d="M286,362 C289,366 291,371 290,374.5 L281,374.5 C283,372 284,367 286,362 Z" fill="#4d8c4e"/>
  <path d="M280,370 L283,374" stroke="#4d8c4e" stroke-width="2"/>
  <path d="M294,360 C298,359 300,363 298,366 C302,368 301,374 296,375 C292,374 291,370 293,366 C291,364 292,361 294,360 Z" fill="#3d4890"/>
  <ellipse cx="270" cy="388.5" rx="5.5" ry="3.5" fill="#a4acd8"/>
</g>

<!--CORONAL-->
</svg>

<div class="t side" style="top:19px">Less regional<br>specific</div>
<div class="t side" style="top:378px">More regional<br>specific</div>

<div class="t lab" style="left:307px;top:9px;font-size:12.2px">The whole brain</div>
<div class="t lab" style="left:217.5px;top:157.5px;font-size:12.3px">Five cortical lobes</div>
<div class="t lab" style="left:372px;top:157px;width:123px;text-align:center;font-size:12.6px">g factor for subcortical<br>volumes</div>
<div class="t lab" style="left:215px;top:301px">66 cortical regions</div>
<div class="t lab" style="left:376px;top:301px">14 subcortical regions</div>

<div class="box" style="top:65px;height:42px;background:#eef0f9;">Tier 1: global measure</div>
<div class="box" style="top:191px;height:55px;background:#dbe2f0;">Tier 2: lobar measure<br>and gSubcortical</div>
<div class="box" style="top:337px;height:43px;background:#b9cae7;">Tier 3: regional measure</div>

<div class="t hd" style="left:190px;top:459px">Cortical measures:</div>
<div class="dot" style="left:203px;top:480px"></div>
<div class="dot" style="left:203px;top:496.5px"></div>
<div class="dot" style="left:203px;top:513px"></div>
<div class="t li" style="left:222px;top:475px">Cortical thickness<br>Surface area<br>Cortical volume</div>

<div class="t hd" style="left:360px;top:459px">Subcortical measure:</div>
<div class="dot" style="left:375px;top:480px"></div>
<div class="t li" style="left:393.5px;top:475px">Subcortical volume</div>
</body></html>
